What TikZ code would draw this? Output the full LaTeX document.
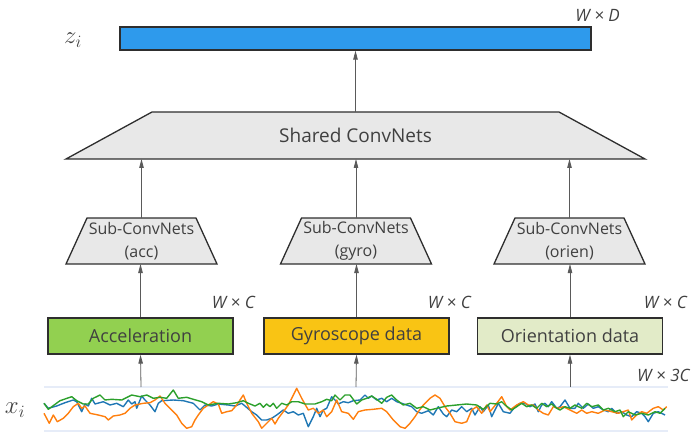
\documentclass[tikz,border=0pt]{standalone}
\usepackage{fontspec}
\setmainfont{Open Sans}
\usetikzlibrary{arrows.meta,backgrounds}

\definecolor{txt}{HTML}{404040}
\definecolor{edge}{HTML}{2E2E2E}
\definecolor{arrowgray}{HTML}{5A5A5A}
\definecolor{barblue}{HTML}{2E9AEC}
\definecolor{accgreen}{HTML}{92D050}
\definecolor{gyroyellow}{HTML}{F9C414}
\definecolor{orienpale}{HTML}{E2EBC8}
\definecolor{trapfill}{HTML}{E8E8E8}
\definecolor{gridblue}{HTML}{E6ECF8}
\definecolor{sigblue}{HTML}{1F77B4}
\definecolor{sigorange}{HTML}{FF7F0E}
\definecolor{siggreen}{HTML}{2CA02C}

\tikzset{
  flow/.style={draw=arrowgray, line width=0.8pt, -{Triangle[length=9pt,width=4.5pt]}},
  databox/.style={draw=edge, line width=1.3pt, minimum width=185, minimum height=36,
    inner sep=0pt, text=txt, font=\fontsize{18}{22}\selectfont},
  trapbody/.style={draw=edge, line width=1.3pt, fill=trapfill, line join=miter},
  trapslot/.style={inner sep=0pt, outer sep=0pt, text=txt, align=center},
  dimlabel/.style={text=txt, inner sep=0pt, font=\fontsize{17}{20}\selectfont\itshape},
  symlabel/.style={text=txt, inner sep=0pt, font=\fontsize{24}{28}\selectfont},
  signal/.style={line width=1.4pt, line join=round},
}

\begin{document}
\begin{tikzpicture}[x=1pt, y=-1pt]
\useasboundingbox (0,0) rectangle (691,433);

% output embedding
\node[draw=edge, line width=1.3pt, fill=barblue, minimum width=471, minimum height=23,
      inner sep=0pt] (zbar) at (355.5,38.5) {};
\node[symlabel, anchor=center] (zlab) at (73,40) {$z_i$};
\node[dimlabel, anchor=east] (wd) at (620,15) {W × D};

% shared network
\node[trapslot, minimum width=579, minimum height=47,
      font=\fontsize{19}{22}\selectfont] (shared) at (355.5,135.5) {Shared ConvNets};

% per-sensor networks
\node[trapslot, minimum width=151, minimum height=46, font=\fontsize{16}{23}\selectfont]
  (subacc) at (141.5,241) {Sub-ConvNets\\(acc)};
\node[trapslot, minimum width=151, minimum height=46, font=\fontsize{16}{23}\selectfont]
  (subgyro) at (356,241) {Sub-ConvNets\\(gyro)};
\node[trapslot, minimum width=151, minimum height=46, font=\fontsize{16}{23}\selectfont]
  (suborien) at (569.5,241) {Sub-ConvNets\\(orien)};

\begin{pgfonlayer}{background}
  \draw[trapbody] (shared.south west) -- (shared.south east)
    -- ([xshift=-86]shared.north east) -- ([xshift=86]shared.north west) -- cycle;
  \foreach \s in {subacc,subgyro,suborien}{
    \draw[trapbody] (\s.south west) -- (\s.south east)
      -- ([xshift=-21]\s.north east) -- ([xshift=21]\s.north west) -- cycle;
  }
\end{pgfonlayer}

% sensor streams
\node[databox, fill=accgreen] (acc) at (140.5,336) {Acceleration};
\node[databox, fill=gyroyellow] (gyro) at (356.5,336) {Gyroscope data};
\node[databox, fill=orienpale] (orien) at (570,336) {Orientation data};

\node[dimlabel, anchor=east] (wc1) at (255,302) {W × C};
\node[dimlabel, anchor=east] (wc2) at (471,302) {W × C};
\node[dimlabel, anchor=east] (wc3) at (687,302) {W × C};
\node[dimlabel, anchor=west] (w3c) at (637,375) {W × 3C};
\node[symlabel, anchor=center] (xlab) at (15,410) {$x_i$};

% raw signal window
\coordinate (sigA) at (141,387);
\coordinate (sigB) at (356,387);
\coordinate (sigC) at (570,387);
\draw[gridblue, line width=1.6pt] (44,387) -- (668,387);
\draw[gridblue, line width=1.6pt] (44,431) -- (668,431);

\draw[signal, sigblue] (44,403.3) -- (48.3,408.3) -- (56.7,406) -- (65,402.7) -- (73.3,400) -- (76.7,401.7) -- (81.7,411.7) -- (85,404) -- (88.3,406) -- (91.7,398.3) -- (95,404) -- (103.3,401.7) -- (110,405) -- (116.7,403.3) -- (123.3,406.7) -- (128.3,400) -- (131.7,404) -- (135,401.7) -- (136.7,408.3) -- (141.7,396) -- (145,400) -- (150,405) -- (155,411.7) -- (158.3,403.3) -- (161.7,400.7) -- (173.3,400) -- (183.3,400.7) -- (193.3,403.3)
 -- (200,410) -- (205,405) -- (211.7,406) -- (218.3,404) -- (228.3,405) -- (235,406) -- (241.7,403.3) -- (245,406) -- (251.7,411.7) -- (256.7,415) -- (261.7,420) -- (266.7,420) -- (271.7,418.3) -- (276.7,415) -- (283.3,410) -- (288.3,413.3) -- (293.3,411.7) -- (298.3,415) -- (303.3,413.3) -- (308.3,426.7) -- (313.3,416.7) -- (316.7,408.3) -- (320,416.7) -- (323.3,410) -- (326.7,408.3) -- (331.7,396.7) -- (335,400) -- (338.3,404) -- (343.3,401.7) -- (348.3,402.7) -- (353.3,400.7)
 -- (360,400) -- (365,395) -- (368.3,398.3) -- (371.7,396) -- (376.7,400) -- (381.7,398.3) -- (386.7,401.7) -- (391.7,398.3) -- (396.7,401.7) -- (401.7,403.3) -- (406.7,405) -- (411.7,406.7) -- (416.7,411.7) -- (421.7,413.3) -- (428.3,410.7) -- (433.3,415) -- (438.3,406.7) -- (443.3,414) -- (446.7,416.7) -- (451.7,410) -- (456.7,411.7) -- (461.7,406.7) -- (466.7,411.7) -- (471.7,408.3) -- (475,415) -- (480,406.7) -- (483.3,411.7) -- (488.3,405) -- (491.7,416.7) -- (495,410) -- (498.3,403.3) -- (503.3,411.7)
 -- (510,413.3) -- (515,406.7) -- (520,403.3) -- (525,403.3) -- (530,406.7) -- (535,404) -- (538.3,411.7) -- (541.7,405) -- (545,403.3) -- (548.3,406.7) -- (551.7,401.7) -- (556.7,408.3) -- (560,406.7) -- (565,400) -- (570,408.3) -- (575,408.3) -- (578.3,403.3) -- (583.3,408.3) -- (588.3,404) -- (593.3,408.3) -- (598.3,406.7) -- (603.3,410) -- (608.3,411.7) -- (611.7,408.3) -- (616.7,413.3) -- (621.7,411.7) -- (626.7,415) -- (631.7,416.7) -- (636.7,411.7) -- (641.7,413.3) -- (645,416.7) -- (648.3,421.7) -- (653.3,413.3) -- (658.3,411.7) -- (665,415);

\draw[signal, sigorange] (44,413.3) -- (49.3,423.3) -- (53.3,415) -- (57.3,421.7) -- (63.3,418.3) -- (68.3,413.3) -- (73.3,406.7) -- (78.3,403.3) -- (81.7,408.3) -- (85,406) -- (90,413.3) -- (98.3,415) -- (105,416.7) -- (108.3,420) -- (113.3,416) -- (120,415) -- (125,413.3) -- (130,408.3) -- (135,405) -- (143.3,403.3) -- (150,402.7) -- (155,400) -- (160,396) -- (165,403.3) -- (171.7,410) -- (176.7,415) -- (181.7,423.3) -- (186.7,428.3) -- (191.7,426.7)
 -- (195,420) -- (198.3,415) -- (203.3,408.3) -- (208.3,405) -- (213.3,401.7) -- (218.3,404) -- (221.7,413.3) -- (226.7,411.7) -- (231.7,410.7) -- (236.7,405) -- (243.3,395) -- (246.7,403.3) -- (251.7,413.3) -- (258.3,421.7) -- (261.7,428.3) -- (266.7,423.3) -- (271.7,418.3) -- (275,424) -- (278.3,418.3) -- (283.3,411.7) -- (288.3,405) -- (291.7,398.3) -- (296.7,388.3) -- (301.7,398.3) -- (308.3,410) -- (313.3,408.3) -- (318.3,413.3) -- (323.3,410) -- (326.7,416.7) -- (331.7,411.7) -- (336.7,400) -- (341.7,411.7) -- (348.3,413.3) -- (353.3,419.3)
 -- (358.3,411.7) -- (365,410) -- (373.3,409.3) -- (381.7,408.3) -- (386.7,411.7) -- (393.3,420) -- (400,426.7) -- (405,428.3) -- (410,423.3) -- (415,416.7) -- (418.3,411.7) -- (423.3,405) -- (430,398.3) -- (435,395) -- (440,398.3) -- (445,406.7) -- (450,413.3) -- (455,421.7) -- (461.7,423.3) -- (466.7,421.7) -- (471.7,410) -- (476.7,406.7) -- (481.7,413.3) -- (486.7,405) -- (490,411.7) -- (496.7,403.3) -- (501.7,396.7) -- (506.7,406.7)
 -- (510,410) -- (516.7,405) -- (523.3,401.7) -- (528.3,405) -- (533.3,405) -- (538.3,410) -- (543.3,413.3) -- (548.3,415) -- (553.3,406.7) -- (558.3,408.3) -- (563.3,406.7) -- (570,410) -- (576.7,413.3) -- (581.7,410) -- (586.7,413.3) -- (591.7,411.7) -- (598.3,413.3) -- (605,410) -- (611.7,411.7) -- (618.3,413.3) -- (623.3,411.7) -- (628.3,410) -- (631.7,420) -- (636.7,415) -- (641.7,411.7) -- (646.7,413.3) -- (653.3,408.3) -- (658.3,406.7) -- (663.3,410) -- (666.7,406.7);

\draw[signal, siggreen] (44,403.3) -- (48.3,409.3) -- (60,400.7) -- (71.7,396.7) -- (76.7,400.7) -- (83.3,404) -- (88.3,404) -- (93.3,398.3) -- (100,395) -- (105,400) -- (111.7,399.3) -- (121.7,400) -- (131.7,395) -- (140,396.7) -- (146.7,395) -- (153.3,398.3) -- (160,397.3) -- (166.7,398.3) -- (173.3,390) -- (178.3,398.3) -- (186.7,397.3) -- (193.3,399.3)
 -- (201.7,401.7) -- (208.3,405) -- (218.3,403.3) -- (228.3,404) -- (236.7,402.7) -- (243.3,400.7) -- (248.3,403.3) -- (255,406) -- (260,403.3) -- (263.3,407.3) -- (266.7,404) -- (270,406.7) -- (273.3,403.3) -- (276.7,408.3) -- (281.7,403.3) -- (286.7,405) -- (291.7,401.7) -- (298.3,401.7) -- (305,404) -- (315,404) -- (321.7,401.7) -- (326.7,399.3) -- (331.7,400.7) -- (335,395) -- (340,400) -- (345,395) -- (350,395)
 -- (356.7,404) -- (361.7,400) -- (366.7,398.3) -- (371.7,396) -- (376.7,399.3) -- (381.7,403.3) -- (386.7,397.3) -- (391.7,395) -- (396.7,400) -- (403.3,405) -- (410,403.3) -- (416.7,408.3) -- (423.3,406.7) -- (430,410) -- (436.7,408.3) -- (446.7,406) -- (456.7,405) -- (466.7,404) -- (476.7,405) -- (483.3,409.3) -- (490,403.3) -- (496.7,404) -- (501.7,401.7)
 -- (505,405) -- (511.7,410) -- (516.7,406.7) -- (521.7,403.3) -- (526.7,406.7) -- (531.7,405) -- (536.7,408.3) -- (541.7,403.3) -- (546.7,406.7) -- (551.7,404) -- (556.7,408.3) -- (560,410) -- (565,406.7) -- (570,408.3) -- (575,405) -- (581.7,408.3) -- (586.7,403.3) -- (591.7,406.7) -- (598.3,405) -- (603.3,410) -- (608.3,408.3) -- (615,411.7) -- (620,410) -- (623.3,416.7) -- (628.3,411.7) -- (635,415) -- (641.7,413.3) -- (648.3,415) -- (655,411.7) -- (660,413.3) -- (665,408.3);

% data flow
\draw[flow] (sigA) -- (acc.south);
\draw[flow] (sigB) -- (gyro.south);
\draw[flow] (sigC) -- (orien.south);
\draw[flow] (acc.north) -- (acc.north |- subacc.south);
\draw[flow] (gyro.north) -- (gyro.north |- subgyro.south);
\draw[flow] (orien.north) -- (orien.north |- suborien.south);
\draw[flow] (subacc.north) -- (subacc.north |- shared.south);
\draw[flow] (subgyro.north) -- (subgyro.north |- shared.south);
\draw[flow] (suborien.north) -- (suborien.north |- shared.south);
\draw[flow] (shared.north) -- (zbar.south);
\end{tikzpicture}
\end{document}
